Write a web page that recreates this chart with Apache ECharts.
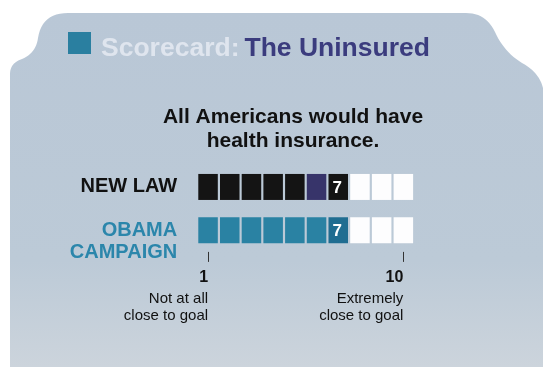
<!DOCTYPE html>
<html>
<head>
<meta charset="utf-8">
<script src="https://cdn.jsdelivr.net/npm/echarts@6/dist/echarts.min.js"></script>
<style>
  html, body { margin: 0; padding: 0; background: #fff; }
  #chart { width: 543px; height: 367px; }
</style>
</head>
<body>
<div id="chart"></div>
<script>
// scale cells 1..10
const cells = ['1', '2', '3', '4', '5', '6', '7', '8', '9', '10']
const rows = ['NEW LAW', 'OBAMA CAMPAIGN']
const scores = [7, 7]
// the one shaded cell in each row (1-based)
const shadedCell = [6, 7]
const scaleEnds = ['1', '10']
const scaleNotes = ['Not at all\nclose to goal', 'Extremely\nclose to goal']

const FONT = '"Liberation Sans", Arial, Helvetica, sans-serif'
const rowColor = ['#141414', '#2a82a3']
const shadeColor = ['#37346a', '#206d91']
const labelColor = ['#111111', '#2b86ab']

const chart = echarts.init(document.getElementById('chart'), null, {renderer: 'canvas'})

const cellData = []
rows.forEach((r, ri) => {
    cells.forEach((c, ci) => {
        cellData.push([ci, ri])
    })
})

// card outline: straight lines plus quadratic corners
const cardPoints = () => {
    const segs = [
        [[10, 367], [10, 74]],
        [[10, 74], [10, 63], [22, 59]],
        [[22, 59], [36, 53], [38, 38]],
        [[38, 38], [42, 13], [68, 13]],
        [[68, 13], [466, 13]],
        [[466, 13], [486, 13], [495, 32]],
        [[495, 32], [504, 52], [522, 63]],
        [[522, 63], [539, 72], [543, 88]],
        [[543, 88], [543, 367]]
    ]
    const pts = []
    segs.forEach(s => {
        if (s.length === 2) {
            pts.push(s[0], s[1])
        } else {
            for (let i = 0; i <= 12; i++) {
                const t = i / 12
                const a = (1 - t) * (1 - t), b = 2 * (1 - t) * t, c = t * t
                pts.push([a * s[0][0] + b * s[1][0] + c * s[2][0], a * s[0][1] + b * s[1][1] + c * s[2][1]])
            }
        }
    })
    return pts
}

const renderCell = (params, api) => {
    const xi = api.value(0)
    const ri = api.value(1)
    const pt = api.coord([xi, ri])
    const w = api.size([1, 1])[0] * 0.9
    const h = 26
    const n = xi + 1
    let fill = 'rgba(255,255,255,0.96)'
    if (n <= scores[ri]) fill = rowColor[ri]
    if (n === shadedCell[ri]) fill = shadeColor[ri]
    const children = [{
        type: 'rect',
        shape: {x: pt[0] - w / 2, y: pt[1] - h / 2, width: w, height: h},
        style: {fill: fill}
    }]
    if (n === scores[ri]) {
        children.push({
            type: 'text',
            x: pt[0] - 1,
            y: pt[1] + 1,
            style: {
                text: String(scores[ri]),
                fill: '#fff',
                font: 'bold 17px ' + FONT,
                align: 'center',
                verticalAlign: 'middle'
            }
        })
    }
    return {type: 'group', children: children}
}

const isEnd = (index) => index === 0 || index === cells.length - 1

const option = {
    backgroundColor: '#ffffff',
    animation: false,
    graphic: [
        {
            type: 'polygon',
            z: -10,
            shape: {points: cardPoints()},
            style: {
                fill: new echarts.graphic.LinearGradient(0, 0, 0, 1, [
                    {offset: 0, color: '#b9c7d6'},
                    {offset: 0.7, color: '#bccad7'},
                    {offset: 1, color: '#ccd4dc'}
                ])
            }
        },
        {
            type: 'rect',
            shape: {x: 68, y: 32, width: 23, height: 22},
            style: {fill: '#2a7fa0'}
        }
    ],
    title: [
        {
            text: '{a|Scorecard:} {b|The Uninsured}',
            left: 96,
            top: 29,
            textStyle: {
                rich: {
                    a: {fontFamily: FONT, fontWeight: 'bold', fontSize: 26.5, color: '#dfe5ee', lineHeight: 30},
                    b: {fontFamily: FONT, fontWeight: 'bold', fontSize: 26.5, color: '#3b3c7e', lineHeight: 30}
                }
            }
        },
        {
            text: 'All Americans would have\nhealth insurance.',
            left: 288,
            textAlign: 'center',
            top: 100,
            textStyle: {
                fontFamily: FONT,
                fontWeight: 'bold',
                fontSize: 21,
                lineHeight: 24,
                color: '#111'
            }
        }
    ],
    grid: {
        left: 197.2,
        width: 217,
        top: 165.3,
        height: 86.6,
        containLabel: false
    },
    xAxis: {
        type: 'category',
        data: cells,
        axisLine: {show: false},
        axisTick: {
            show: true,
            alignWithLabel: true,
            interval: (index) => isEnd(index),
            length: 10,
            lineStyle: {color: '#333', width: 1}
        },
        axisLabel: {
            interval: (index) => isEnd(index),
            margin: 14,
            align: 'right',
            formatter: (value, index) => {
                const k = index === 0 ? 0 : 1
                const notes = scaleNotes[k].split('\n').map(s => '{d|' + s + '}').join('\n')
                return '{n|' + scaleEnds[k] + '}\n' + notes
            },
            rich: {
                n: {fontFamily: FONT, fontWeight: 'bold', fontSize: 16, lineHeight: 24, color: '#111', align: 'right'},
                d: {fontFamily: FONT, fontSize: 15, lineHeight: 17, color: '#111', align: 'right'}
            }
        },
        splitLine: {show: false}
    },
    yAxis: {
        type: 'category',
        data: rows,
        inverse: true,
        axisLine: {show: false},
        axisTick: {show: false},
        splitLine: {show: false},
        axisLabel: {
            interval: 0,
            hideOverlap: false,
            margin: 20,
            fontFamily: FONT,
            fontWeight: 'bold',
            fontSize: 20,
            lineHeight: 22,
            color: (value, index) => labelColor[index],
            formatter: (value, index) => index === 0 ? value : ' \n' + value.split(' ').join('\n')
        }
    },
    series: [
        {
            type: 'custom',
            renderItem: renderCell,
            data: cellData,
            encode: {x: 0, y: 1}
        }
    ]
}

chart.setOption(option)
</script>
</body>
</html>
